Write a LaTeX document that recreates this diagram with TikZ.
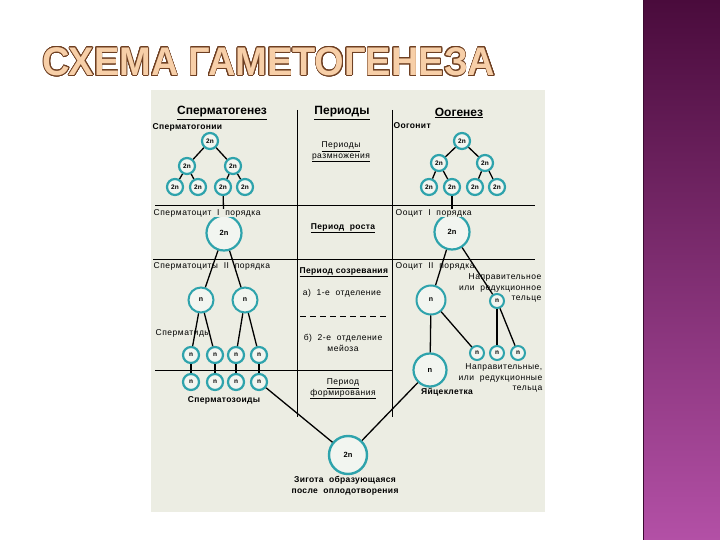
\documentclass[tikz,border=0pt]{standalone}
\usepackage{fontspec}
\setmainfont{Liberation Sans}
\usepackage{contour}
\contourlength{0.7pt}
\contournumber{24}
\definecolor{panel}{HTML}{ECEDE3}
\definecolor{teal}{HTML}{2EA3AC}
\definecolor{cfill}{HTML}{F2F5F0}
\definecolor{titlefill}{HTML}{F7CFA8}
\definecolor{titleedge}{HTML}{6E3F22}
\definecolor{stripetop}{HTML}{4A0B3C}
\definecolor{stripebot}{HTML}{B350A6}
\tikzset{
  sc/.style={circle, draw=teal, fill=cfill, line width=2.2pt, minimum size=16pt, inner sep=0pt, font=\bfseries\fontsize{6.5}{6.5}\selectfont},
  mc/.style={circle, draw=teal, fill=cfill, line width=2pt, minimum size=25pt, inner sep=0pt, font=\bfseries\fontsize{7}{7}\selectfont},
  bc/.style={circle, draw=teal, fill=cfill, line width=2.2pt, minimum size=35pt, inner sep=0pt, font=\bfseries\fontsize{7.5}{8}\selectfont},
  conn/.style={draw=black, line width=1.3pt},
  rule/.style={draw=black, line width=1pt},
  lbl/.style={font=\fontsize{8.5}{10.5}\selectfont\addfontfeatures{LetterSpace=6}, inner sep=0.5pt},
  lblb/.style={font=\bfseries\fontsize{8.5}{10.5}\selectfont\addfontfeatures{LetterSpace=4}, inner sep=0.5pt},
  hdr/.style={font=\bfseries\fontsize{12}{13}\selectfont, inner sep=0pt}
}
\begin{document}
\begin{tikzpicture}[x=1pt, y=-1pt]
\useasboundingbox (0,0) rectangle (720,540);
\fill[white] (0,0) rectangle (720,540);
% right stripe
\shade[top color=stripetop, bottom color=stripebot] (643,0) rectangle (720,540);
\draw[line width=1.5pt, color=stripetop!80!black] (643.5,0) -- (643.5,540);
% title
\node[font=\bfseries\fontsize{40}{40}\selectfont, xscale=0.95] (title) at (269,62) {\contour{titleedge}{\textcolor{titlefill}{СХЕМА ГАМЕТОГЕНЕЗА}}};
% panel
\fill[panel] (151,90) rectangle (545,512);
% rules
\draw[rule] (297,110) -- (297,417);
\draw[rule] (392,110) -- (392,417);
\draw[rule] (155,206) -- (535,206);
\draw[rule] (153,259) -- (535,259);
\draw[rule, dashed, dash pattern=on 6pt off 4pt] (300,316) -- (389,316);
\draw[rule] (155,370) -- (392,370);
% headers
\node[hdr] (h1) at (222,113) {\underline{Сперматогенез}};
\node[hdr] (h2) at (342,113) {\underline{Периоды}};
\node[hdr] (h3) at (459,113) {\underline{Оогенез}};
% left labels
\node[lblb, anchor=west] (l1) at (152,127) {Сперматогонии};
\node[lbl, anchor=west] (l3) at (153,266) {Сперматоциты\ \ II\ \ порядка};
\node[lbl, anchor=west] (l4) at (155,333) {Сперматиды};
\node[lblb] (l5) at (224,400) {Сперматозоиды};
% middle labels
\node[lbl, align=center] (m1) at (341,152) {\underline{Периоды}\\\underline{размножения}};
\node[lblb] (m2) at (343,228) {\underline{Период\ \ роста}};
\node[lblb, anchor=west] (m3) at (299,272) {\underline{Период\ созревания}};
\node[lbl] (m4) at (342,293) {а)\ \ 1-е\ \ отделение};
\node[lbl, align=center] (m5) at (343,343) {б)\ \ 2-е\ \ отделение\\мейоза};
\node[lbl, align=center] (m6) at (343,389) {\underline{Период}\\\underline{формирования}};
% right labels
\node[lblb, anchor=west] (r1) at (393,126) {Оогонит};
\node[lbl, align=right, anchor=east] (r4) at (542,288) {Направительное\\или\ \ редукционное\\тельце};
\node[lbl, align=right, anchor=east] (r5) at (543,378) {Направительные,\\или\ \ редукционные\\тельца};
\node[lblb] (r6) at (447,392) {Яйцеклетка};
\node[lblb, align=center] (z1) at (345,486) {Зигота\ \ образующаяся\\после\ \ оплодотворения};
% spermatogonia
\node[sc] (g1) at (210,141) {2n};
\node[sc] (g2a) at (187,166) {2n};
\node[sc] (g2b) at (233,166) {2n};
\node[sc] (g3a) at (175,187) {2n};
\node[sc] (g3b) at (198,187) {2n};
\node[sc] (g3c) at (223,187) {2n};
\node[sc] (g3d) at (245,187) {2n};
\draw[conn] (g1) -- (g2a); \draw[conn] (g1) -- (g2b);
\draw[conn] (g2a) -- (g3a); \draw[conn] (g2a) -- (g3b);
\draw[conn] (g2b) -- (g3c); \draw[conn] (g2b) -- (g3d);
% spermatocyte I
\node[bc] (sp1) at (224,233) {2n};
\draw[conn] (g3c) -- (sp1);
\node[lbl, anchor=west, fill=panel] (l2) at (153,213) {Сперматоцит\ \ I\ \ порядка};
% spermatocytes II
\node[mc] (sp2a) at (201,300) {n};
\node[mc] (sp2b) at (245,300) {n};
\draw[conn] (sp1) -- (sp2a); \draw[conn] (sp1) -- (sp2b);
% spermatids
\node[sc] (t1) at (191,355) {n};
\node[sc] (t2) at (215,355) {n};
\node[sc] (t3) at (236,355) {n};
\node[sc] (t4) at (259,355) {n};
\draw[conn] (sp2a) -- (t1); \draw[conn] (sp2a) -- (t2);
\draw[conn] (sp2b) -- (t3); \draw[conn] (sp2b) -- (t4);
% spermatozoa
\node[sc] (z1s) at (191,382) {n};
\node[sc] (z2s) at (215,382) {n};
\node[sc] (z3s) at (236,382) {n};
\node[sc] (z4s) at (259,382) {n};
\draw[conn] (t1) -- (z1s); \draw[conn] (t2) -- (z2s);
\draw[conn] (t3) -- (z3s); \draw[conn] (t4) -- (z4s);
% oogonia
\node[sc] (o1) at (462,141) {2n};
\node[sc] (o2a) at (439,163) {2n};
\node[sc] (o2b) at (485,163) {2n};
\node[sc] (o3a) at (429,187) {2n};
\node[sc] (o3b) at (452,187) {2n};
\node[sc] (o3c) at (475,187) {2n};
\node[sc] (o3d) at (497,187) {2n};
\draw[conn] (o1) -- (o2a); \draw[conn] (o1) -- (o2b);
\draw[conn] (o2a) -- (o3a); \draw[conn] (o2a) -- (o3b);
\draw[conn] (o2b) -- (o3c); \draw[conn] (o2b) -- (o3d);
% oocyte I
\node[bc] (oc1) at (452,232) {2n};
\draw[conn] (o3b) -- (oc1);
\node[lbl, anchor=west, fill=panel] (r2) at (395,213) {Ооцит\ \ I\ \ порядка};
% oocyte II and polar bodies
\node[mc, minimum size=29pt] (oc2) at (431,300) {n};
\node[sc, line width=2pt, minimum size=14pt] (pb1) at (497,301) {n};
\draw[conn] (oc1) -- (oc2);
\draw[conn] (oc1) -- (pb1);
\node[lbl, anchor=west] (r3) at (395,266) {Ооцит\ \ II\ \ порядка};
\node[sc, line width=2pt, minimum size=14pt] (pb2) at (477,353) {n};
\node[sc, line width=2pt, minimum size=14pt] (pb3) at (497,353) {n};
\node[sc, line width=2pt, minimum size=14pt] (pb4) at (518,353) {n};
\draw[conn] (oc2) -- (pb2);
\draw[conn] (pb1) -- (pb3);
\draw[conn] (pb1) -- (pb4);
% egg
\node[bc, minimum size=33pt] (egg) at (430,370) {n};
\draw[conn] (oc2) -- (egg);
% zygote
\node[bc, minimum size=38pt, line width=2.4pt] (zyg) at (348,455) {2n};
\draw[conn] (z4s) -- (zyg);
\draw[conn] (egg) -- (zyg);
\end{tikzpicture}
\end{document}
